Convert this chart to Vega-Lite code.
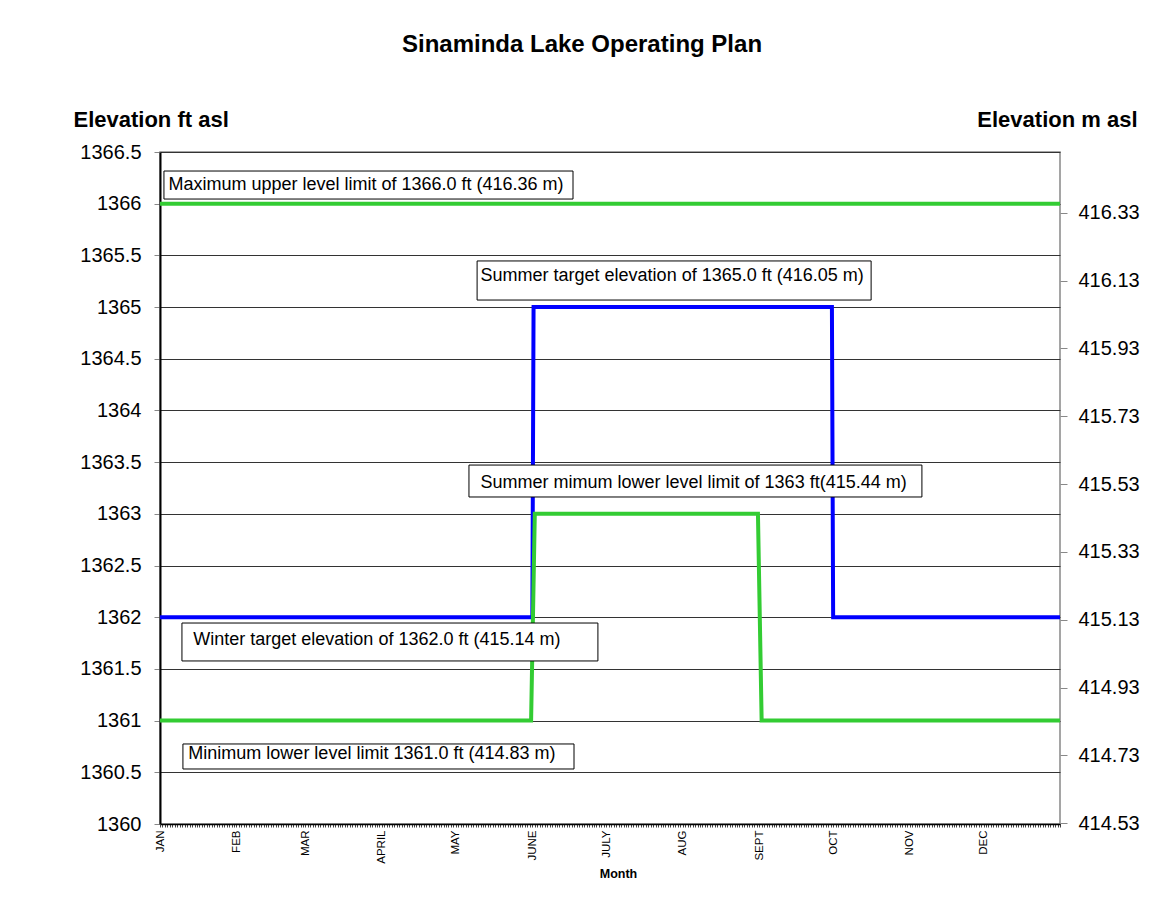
{
  "$schema": "https://vega.github.io/schema/vega-lite/v6.json",
  "autosize": "none",
  "width": 900,
  "height": 672,
  "padding": {"left": 160, "top": 152, "right": 93, "bottom": 75},
  "background": "white",
  "config": {
    "font": "Liberation Sans",
    "view": {"stroke": "#888888", "strokeWidth": 1.5}
  },
  "title": {
    "text": "Sinaminda Lake Operating Plan",
    "fontSize": 24,
    "fontWeight": "bold",
    "font": "Liberation Sans",
    "color": "black",
    "dx": -28,
    "dy": -47
  },
  "datasets": {
    "levels": [
      {"series": "target", "day": 0, "ft": 1362},
      {"series": "target", "day": 151, "ft": 1362},
      {"series": "target", "day": 151.5, "ft": 1365},
      {"series": "target", "day": 272.5, "ft": 1365},
      {"series": "target", "day": 273, "ft": 1362},
      {"series": "target", "day": 365, "ft": 1362},
      {"series": "min", "day": 0, "ft": 1361},
      {"series": "min", "day": 150.5, "ft": 1361},
      {"series": "min", "day": 152, "ft": 1363},
      {"series": "min", "day": 242.5, "ft": 1363},
      {"series": "min", "day": 244, "ft": 1361},
      {"series": "min", "day": 365, "ft": 1361},
      {"series": "max", "day": 0, "ft": 1366},
      {"series": "max", "day": 365, "ft": 1366}
    ],
    "notes": [
      {"label": "Maximum upper level limit of 1366.0 ft (416.36 m)", "x0": 1.6, "x1": 167.5, "top": 1366.316, "bottom": 1366.045, "tx": 3.4, "ty": 1366.181},
      {"label": "Summer target elevation of 1365.0 ft (416.05 m)", "x0": 128.6, "x1": 288.4, "top": 1365.446, "bottom": 1365.068, "tx": 130.0, "ty": 1365.30},
      {"label": "Summer mimum lower level limit of 1363 ft(415.44 m)", "x0": 125.3, "x1": 309.0, "top": 1363.472, "bottom": 1363.163, "tx": 130.0, "ty": 1363.298},
      {"label": "Winter target elevation of 1362.0 ft (415.14 m)", "x0": 8.9, "x1": 177.6, "top": 1361.944, "bottom": 1361.577, "tx": 13.5, "ty": 1361.78},
      {"label": "Minimum lower level limit 1361.0 ft (414.83 m)", "x0": 9.3, "x1": 167.9, "top": 1360.774, "bottom": 1360.532, "tx": 11.5, "ty": 1360.677}
    ],
    "metres": [
      {"m": 414.53}, {"m": 414.73}, {"m": 414.93}, {"m": 415.13}, {"m": 415.33},
      {"m": 415.53}, {"m": 415.73}, {"m": 415.93}, {"m": 416.13}, {"m": 416.33}
    ]
  },
  "layer": [
    {
      "encoding": {
        "x": {
          "type": "quantitative",
          "scale": {"domain": [0, 365], "nice": false, "zero": false},
          "axis": {
            "tickCount": 365,
            "grid": false,
            "labelExpr": "indexof([0,31,59,90,120,151,181,212,243,273,304,334], datum.value) >= 0 ? ['JAN','FEB','MAR','APRIL','MAY','JUNE','JULY','AUG','SEPT','OCT','NOV','DEC'][indexof([0,31,59,90,120,151,181,212,243,273,304,334], datum.value)] : ''",
            "labelAngle": 270,
            "labelAlign": "right",
            "labelBaseline": "middle",
            "labelFontSize": 11.5,
            "labelColor": "black",
            "labelPadding": 3,
            "labelOverlap": false,
            "labelFlush": false,
            "tickSize": 3,
            "tickColor": "#444444",
            "tickWidth": 1,
            "domainColor": "black",
            "domainWidth": 1.5,
            "title": "Month",
            "titleFontSize": 12.5,
            "titleFontWeight": "bold",
            "titleColor": "black",
            "titleX": 458,
            "titleY": 53,
            "titleAlign": "center",
            "titleBaseline": "alphabetic"
          }
        },
        "y": {
          "type": "quantitative",
          "scale": {"domain": [1360, 1366.5], "nice": false, "zero": false},
          "axis": {
            "tickCount": 13,
            "format": "~f",
            "grid": true,
            "gridColor": "#333333",
            "gridWidth": 1,
            "labelFontSize": 20,
            "labelColor": "black",
            "labelPadding": 13,
            "tickSize": 6,
            "tickColor": "#888888",
            "domainColor": "black",
            "domainWidth": 2,
            "title": "Elevation ft asl",
            "titleAngle": 0,
            "titleFontSize": 22,
            "titleFontWeight": "bold",
            "titleColor": "black",
            "titleAlign": "left",
            "titleBaseline": "alphabetic",
            "titleX": -87,
            "titleY": -26
          }
        }
      },
      "layer": [
        {
          "data": {"name": "levels"},
          "mark": {"type": "line", "strokeWidth": 4},
          "encoding": {
            "x": {"field": "day"},
            "y": {"field": "ft"},
            "color": {
              "field": "series",
              "type": "nominal",
              "scale": {"domain": ["target", "min", "max"], "range": ["#0000FF", "#33CC33", "#33CC33"]},
              "legend": null
            },
            "order": {"field": "day"}
          }
        },
        {
          "data": {"name": "notes"},
          "mark": {"type": "rect", "fill": "white", "stroke": "black", "strokeWidth": 1},
          "encoding": {
            "x": {"field": "x0"},
            "x2": {"field": "x1"},
            "y": {"field": "top"},
            "y2": {"field": "bottom"}
          }
        },
        {
          "data": {"name": "notes"},
          "mark": {"type": "text", "align": "left", "baseline": "middle", "fontSize": 18, "color": "black", "font": "Liberation Sans"},
          "encoding": {
            "x": {"field": "tx"},
            "y": {"field": "ty"},
            "text": {"field": "label"}
          }
        }
      ]
    },
    {
      "data": {"name": "metres"},
      "mark": {"type": "point", "opacity": 0},
      "encoding": {
        "y": {
          "field": "m",
          "type": "quantitative",
          "scale": {"domain": [414.528, 416.5092], "nice": false, "zero": false},
          "axis": {
            "orient": "right",
            "values": [414.53, 414.73, 414.93, 415.13, 415.33, 415.53, 415.73, 415.93, 416.13, 416.33],
            "format": ".2f",
            "grid": false,
            "domain": false,
            "labelFontSize": 20,
            "labelColor": "black",
            "labelPadding": 11,
            "tickSize": 7,
            "tickColor": "#888888",
            "title": "Elevation m asl",
            "titleAngle": 0,
            "titleFontSize": 22,
            "titleFontWeight": "bold",
            "titleColor": "black",
            "titleAlign": "right",
            "titleBaseline": "alphabetic",
            "titleX": 77,
            "titleY": -26
          }
        }
      }
    }
  ],
  "resolve": {"scale": {"y": "independent"}}
}
